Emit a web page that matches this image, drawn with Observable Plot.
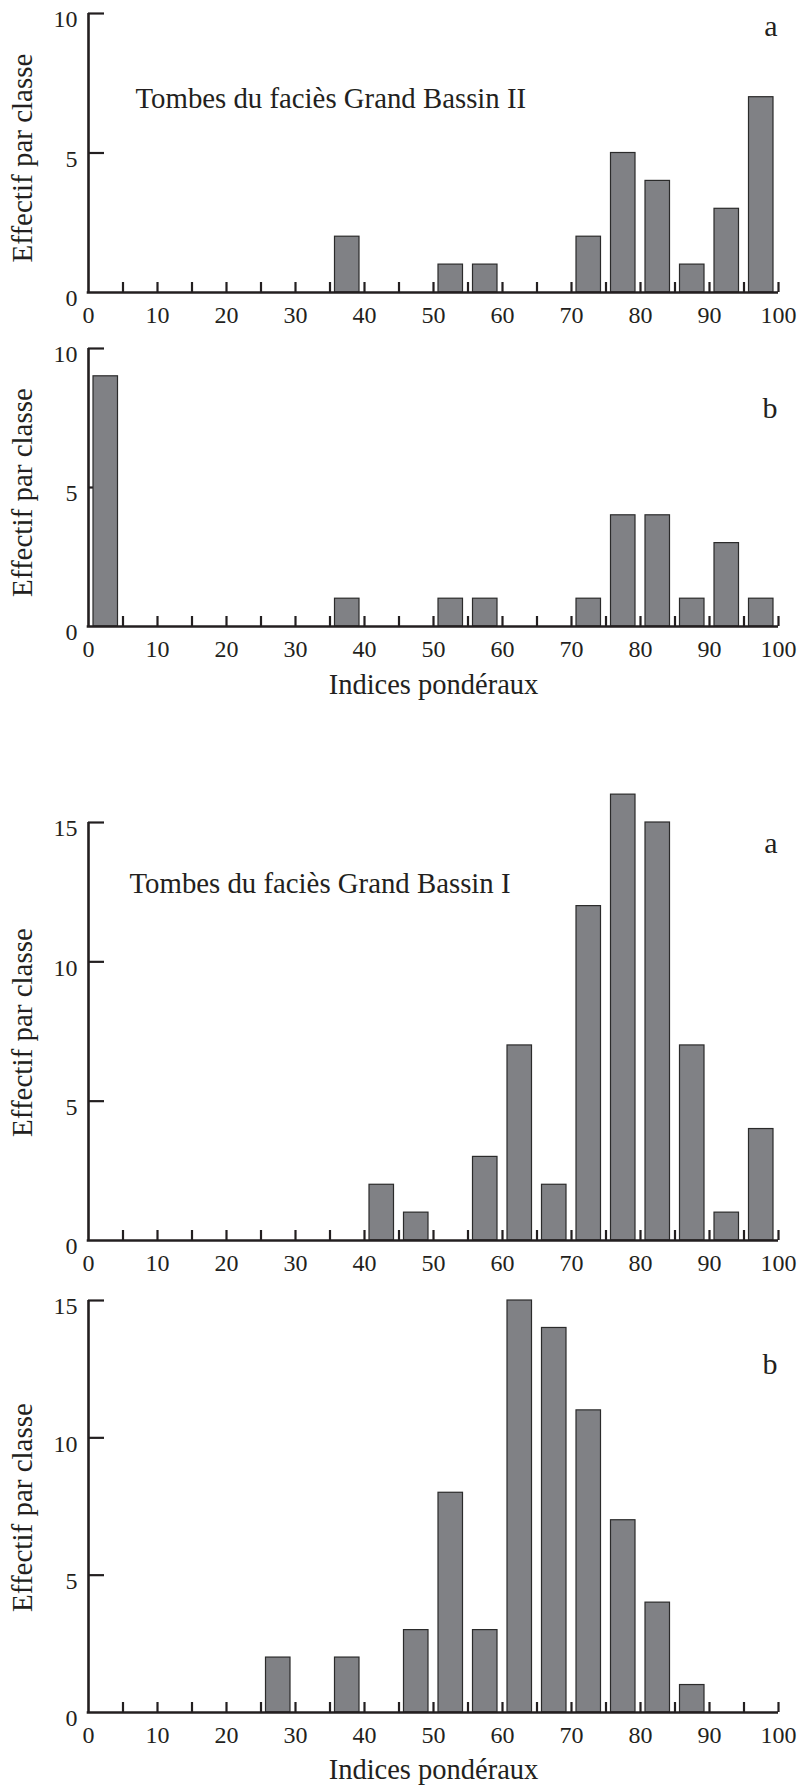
<!DOCTYPE html>
<html>
<head>
<meta charset="utf-8">
<script src="https://cdn.jsdelivr.net/npm/d3@7"></script>
<script src="https://cdn.jsdelivr.net/npm/@observablehq/plot@0.6"></script>
<style>
  body { margin: 0; background: #fff; }
  #chart svg { display: block; }
</style>
</head>
<body>
<div id="chart"></div>
<script>
// Class bins (lower bound of each 5-unit class of "indice pondéral")
const binStarts = [0, 5, 10, 15, 20, 25, 30, 35, 40, 45, 50, 55, 60, 65, 70, 75, 80, 85, 90, 95];
const binWidth = 5;

// Counts per class
const countsGB2a = [0, 0, 0, 0, 0, 0, 0, 2, 0, 0, 1, 1, 0, 0, 2, 5, 4, 1, 3, 7];
const countsGB2b = [9, 0, 0, 0, 0, 0, 0, 1, 0, 0, 1, 1, 0, 0, 1, 4, 4, 1, 3, 1];
const countsGB1a = [0, 0, 0, 0, 0, 0, 0, 0, 2, 1, 0, 3, 7, 2, 12, 16, 15, 7, 1, 4];
const countsGB1b = [0, 0, 0, 0, 0, 2, 0, 2, 0, 3, 8, 3, 15, 14, 11, 7, 4, 1, 0, 0];

// Axes
const xDomain = [0, 100];
const xTickMarks = [5, 10, 15, 20, 25, 30, 35, 40, 45, 50, 55, 60, 65, 70, 75, 80, 85, 90, 95, 100];
const xTickLabels = [0, 10, 20, 30, 40, 50, 60, 70, 80, 90, 100];
const yTicksTop = [5, 10];
const yLabelsTop = [0, 5, 10];
const yTicksBottom = [5, 10, 15];
const yLabelsBottom = [0, 5, 10, 15];

// Texts
const titleGB2 = "Tombes du faciès Grand Bassin II";
const titleGB1 = "Tombes du faciès Grand Bassin I";
const yAxisLabel = "Effectif par classe";
const xAxisLabel = "Indices pondéraux";
const letterA = "a";
const letterB = "b";

const ink = "#231f20";
const barFill = "#808185";
const barStroke = "#2b2b2b";

function panel(o) {
  const data = binStarts
    .map((b, i) => ({x1: b, x2: b + binWidth, n: o.counts[i]}))
    .filter(d => d.n > 0);
  const marks = [
    // y tick labels
    Plot.axisY({ticks: o.yLabels, tickSize: 0, tickPadding: 11, dy: 6, fontSize: 24, label: null, fill: ink}),
    // inward y ticks
    Plot.axisY({ticks: o.yTicks, tickSize: -16, strokeWidth: 2.2, stroke: ink, fill: "none", label: null}),
    // x tick labels
    Plot.axisX({ticks: xTickLabels, tickSize: 0, tickPadding: 13, fontSize: 24, label: null, fill: ink}),
    // inward x ticks
    Plot.axisX({ticks: xTickMarks, tickSize: -10, strokeWidth: 2.2, stroke: ink, fill: "none", label: null}),
    // bars
    Plot.rectY(data, {x1: "x1", x2: "x2", y: "n", fill: barFill, stroke: barStroke, strokeWidth: 1.2, insetLeft: 5, insetRight: 5}),
    // axis lines
    Plot.ruleX([xDomain[0]], {stroke: ink, strokeWidth: 2.6}),
    Plot.ruleY([0], {stroke: ink, strokeWidth: 2.6, insetLeft: -1.3}),
    // y-axis title
    Plot.text([yAxisLabel], {text: d => d, frameAnchor: "left", rotate: -90, textAnchor: "middle", lineAnchor: "bottom", dx: -57, dy: o.yLabelDy, fontSize: 29, fill: ink}),
    // panel letter
    Plot.text([o.letter], {text: d => d, frameAnchor: "top-right", textAnchor: "end", lineAnchor: "bottom", dx: -1, dy: o.letterDy, fontSize: 30, fill: ink})
  ];
  if (o.title) {
    marks.push(Plot.text([o.title], {text: d => d, frameAnchor: "top-left", textAnchor: "start", lineAnchor: "bottom", dx: o.titleDx, dy: o.titleDy, fontSize: 28.8, fill: ink}));
  }
  if (o.xLabelDy) {
    marks.push(Plot.text([xAxisLabel], {text: d => d, frameAnchor: "bottom", textAnchor: "middle", lineAnchor: "bottom", dy: o.xLabelDy, fontSize: 28.5, fill: ink}));
  }
  return Plot.plot({
    width: 798,
    height: o.height,
    marginTop: o.marginTop,
    marginBottom: o.marginBottom,
    marginLeft: 88,
    marginRight: 20,
    style: {fontFamily: "'Liberation Serif', 'Times New Roman', serif", fontSize: "24px", color: ink, background: "#fff", overflow: "visible"},
    x: {domain: xDomain},
    y: {domain: [0, o.yMax]},
    marks
  });
}

const chart = document.getElementById("chart");
chart.append(panel({counts: countsGB2a, yMax: 10, yTicks: yTicksTop, yLabels: yLabelsTop, height: 330, marginTop: 13, marginBottom: 38, letter: letterA, letterDy: 22, title: titleGB2, titleDx: 47, titleDy: 94, yLabelDy: 5}));
chart.append(panel({counts: countsGB2b, yMax: 10, yTicks: yTicksTop, yLabels: yLabelsTop, height: 390, marginTop: 18, marginBottom: 94, letter: letterB, letterDy: 69, xLabelDy: 67, yLabelDy: 5}));
chart.append(panel({counts: countsGB1a, yMax: 15, yTicks: yTicksBottom, yLabels: yLabelsBottom, height: 555, marginTop: 102, marginBottom: 35, letter: letterA, letterDy: 30, title: titleGB1, titleDx: 41, titleDy: 70, yLabelDy: 1}));
chart.append(panel({counts: countsGB1b, yMax: 15, yTicks: yTicksBottom, yLabels: yLabelsBottom, height: 516, marginTop: 25, marginBottom: 79, letter: letterB, letterDy: 73, xLabelDy: 66, yLabelDy: 1}));
</script>
</body>
</html>
